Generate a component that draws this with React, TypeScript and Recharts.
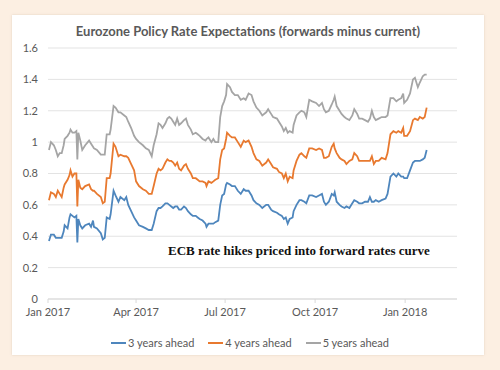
import { LineChart, Line, XAxis, YAxis, CartesianGrid, Legend } from "recharts";

const dates = [
  "2017-01-02", "2017-01-04", "2017-01-07", "2017-01-09", "2017-01-11", "2017-01-13", "2017-01-15", "2017-01-17", "2017-01-18", "2017-01-21",
  "2017-01-23", "2017-01-24", "2017-01-26", "2017-01-28", "2017-01-30", "2017-01-31", "2017-02-01", "2017-02-03", "2017-02-05", "2017-02-08",
  "2017-02-12", "2017-02-14", "2017-02-16", "2017-02-17", "2017-02-20", "2017-02-24", "2017-02-26", "2017-02-28", "2017-03-02", "2017-03-05",
  "2017-03-06", "2017-03-09", "2017-03-11", "2017-03-14", "2017-03-16", "2017-03-20", "2017-03-22", "2017-03-24", "2017-03-27", "2017-03-30",
  "2017-04-01", "2017-04-04", "2017-04-08", "2017-04-11", "2017-04-14", "2017-04-17", "2017-04-19", "2017-04-22", "2017-04-24", "2017-04-26",
  "2017-04-28", "2017-05-01", "2017-05-03", "2017-05-05", "2017-05-07", "2017-05-09", "2017-05-11", "2017-05-13", "2017-05-15", "2017-05-17",
  "2017-05-20", "2017-05-22", "2017-05-24", "2017-05-27", "2017-05-29", "2017-06-01", "2017-06-03", "2017-06-05", "2017-06-08", "2017-06-11",
  "2017-06-12", "2017-06-14", "2017-06-17", "2017-06-19", "2017-06-21", "2017-06-24", "2017-06-26", "2017-06-28", "2017-06-30", "2017-07-02",
  "2017-07-03", "2017-07-06",
  "2017-07-08", "2017-07-11", "2017-07-14", "2017-07-17", "2017-07-20", "2017-07-22", "2017-07-25", "2017-07-28", "2017-07-30", "2017-08-02",
  "2017-08-05", "2017-08-08", "2017-08-12", "2017-08-14", "2017-08-17", "2017-08-19", "2017-08-23", "2017-08-25", "2017-08-28", "2017-08-30",
  "2017-09-01", "2017-09-03", "2017-09-05", "2017-09-08", "2017-09-09", "2017-09-12", "2017-09-15", "2017-09-17", "2017-09-20", "2017-09-22",
  "2017-09-25", "2017-09-28", "2017-10-02", "2017-10-05", "2017-10-08", "2017-10-10",
  "2017-10-12", "2017-10-15", "2017-10-18", "2017-10-20", "2017-10-21", "2017-10-23", "2017-10-26", "2017-10-28", "2017-10-31", "2017-11-02",
  "2017-11-05", "2017-11-08", "2017-11-10", "2017-11-13", "2017-11-15", "2017-11-18", "2017-11-21", "2017-11-24", "2017-11-26", "2017-11-28",
  "2017-11-30", "2017-12-02", "2017-12-05", "2017-12-08", "2017-12-12", "2017-12-14", "2017-12-17", "2017-12-20", "2017-12-23", "2017-12-25",
  "2017-12-28", "2017-12-30", "2017-12-31", "2018-01-03", "2018-01-06", "2018-01-09", "2018-01-11", "2018-01-14", "2018-01-16", "2018-01-19",
  "2018-01-21", "2018-01-23",
];

const threeYears = [
  0.37, 0.41, 0.41, 0.39, 0.39, 0.39, 0.39, 0.43, 0.47, 0.45, 0.52, 0.54, 0.53, 0.52, 0.53, 0.36, 0.51, 0.47, 0.45, 0.47,
  0.48, 0.46, 0.5, 0.46, 0.45, 0.42, 0.38, 0.39, 0.52, 0.51, 0.54, 0.69, 0.66, 0.62, 0.65, 0.63, 0.65, 0.6, 0.56, 0.52,
  0.5, 0.47, 0.46, 0.45, 0.44, 0.44, 0.48, 0.56, 0.58, 0.58, 0.59, 0.61, 0.61, 0.6, 0.59, 0.58, 0.59, 0.59, 0.57, 0.57,
  0.59, 0.58, 0.56, 0.54, 0.53, 0.53, 0.52, 0.51, 0.5, 0.48, 0.46, 0.48, 0.48, 0.48, 0.49, 0.5, 0.6, 0.66, 0.67, 0.73,
  0.74, 0.73,
  0.72, 0.72, 0.69, 0.67, 0.7, 0.69, 0.69, 0.66, 0.63, 0.61, 0.6, 0.58, 0.6, 0.6, 0.57, 0.56, 0.55, 0.54, 0.53, 0.51,
  0.52, 0.48, 0.51, 0.52, 0.56, 0.6, 0.63, 0.63, 0.62, 0.61, 0.66, 0.66, 0.65, 0.66, 0.67, 0.62,
  0.6, 0.62, 0.67, 0.66, 0.68, 0.62, 0.6, 0.59, 0.58, 0.59, 0.58, 0.61, 0.63, 0.62, 0.61, 0.61, 0.62, 0.62, 0.65, 0.62,
  0.62, 0.63, 0.62, 0.63, 0.64, 0.67, 0.78, 0.8, 0.78, 0.8, 0.78, 0.78, 0.77, 0.77, 0.82, 0.87, 0.88, 0.88, 0.88, 0.89,
  0.9, 0.95,
];

const fourYears = [
  0.63, 0.68, 0.67, 0.65, 0.69, 0.67, 0.65, 0.71, 0.73, 0.76, 0.79, 0.82, 0.78, 0.8, 0.8, 0.59, 0.76, 0.71, 0.7, 0.72,
  0.73, 0.7, 0.69, 0.69, 0.67, 0.65, 0.61, 0.62, 0.77, 0.77, 0.8, 0.99, 0.97, 0.91, 0.92, 0.91, 0.91, 0.9, 0.86, 0.82,
  0.75, 0.72, 0.7, 0.69, 0.67, 0.67, 0.72, 0.8, 0.83, 0.82, 0.83, 0.87, 0.89, 0.88, 0.88, 0.87, 0.85, 0.87, 0.83, 0.82,
  0.85, 0.86, 0.83, 0.8, 0.77, 0.77, 0.76, 0.75, 0.75, 0.74, 0.72, 0.75, 0.74, 0.75, 0.76, 0.77, 0.89, 0.95, 0.96, 1.02,
  1.06, 1.04,
  1.03, 1.03, 1.0, 0.97, 1.01, 1.0, 1.01, 0.97, 0.93, 0.89, 0.88, 0.85, 0.87, 0.89, 0.86, 0.84, 0.83, 0.81, 0.8, 0.77,
  0.8, 0.75, 0.78, 0.77, 0.82, 0.88, 0.92, 0.93, 0.91, 0.9, 0.96, 0.96, 0.95, 0.96, 0.95, 0.9,
  0.9, 0.91, 0.97, 0.99, 0.96, 0.93, 0.9, 0.89, 0.88, 0.86, 0.88, 0.89, 0.93, 0.91, 0.88, 0.88, 0.88, 0.88, 0.88, 0.91,
  0.86, 0.88, 0.88, 0.9, 0.89, 0.93, 1.05, 1.07, 1.06, 1.07, 1.06, 1.09, 1.04, 1.04, 1.07, 1.14, 1.15, 1.14, 1.16, 1.15,
  1.16, 1.22,
];

const fiveYears = [
  0.95, 1.0, 0.98, 0.95, 0.91, 0.93, 0.93, 0.98, 1.02, 1.04, 1.06, 1.08, 1.06, 1.06, 1.07, 0.89, 1.06, 1.01, 0.95, 0.98,
  1.01, 0.99, 0.97, 0.96, 0.95, 0.92, 0.92, 0.92, 1.05, 1.05, 1.08, 1.23, 1.22, 1.19, 1.19, 1.17, 1.16, 1.13, 1.09, 1.04,
  1.02, 1.0, 0.98, 0.96, 0.95, 0.91, 0.98, 1.05, 1.12, 1.11, 1.09, 1.12, 1.15, 1.16, 1.15, 1.13, 1.11, 1.15, 1.11, 1.12,
  1.14, 1.15, 1.11, 1.08, 1.05, 1.06, 1.05, 1.04, 1.02, 1.01, 1.02, 1.03, 1.0, 1.02, 1.0, 1.0, 1.16, 1.23, 1.26, 1.3,
  1.37, 1.35,
  1.32, 1.3, 1.3, 1.27, 1.28, 1.27, 1.31, 1.3, 1.26, 1.22, 1.2, 1.17, 1.19, 1.21, 1.18, 1.16, 1.15, 1.13, 1.1, 1.07,
  1.09, 1.06, 1.07, 1.06, 1.11, 1.17, 1.19, 1.2, 1.19, 1.16, 1.27, 1.26, 1.25, 1.23, 1.25, 1.21,
  1.19, 1.2, 1.24, 1.27, 1.29, 1.23, 1.2, 1.18, 1.16, 1.15, 1.14, 1.17, 1.21, 1.18, 1.15, 1.15, 1.14, 1.13, 1.15, 1.2,
  1.16, 1.14, 1.15, 1.16, 1.16, 1.17, 1.28, 1.28, 1.26, 1.27, 1.28, 1.31, 1.25, 1.27, 1.31, 1.4, 1.41, 1.35, 1.38, 1.42,
  1.43, 1.43,
];

const tickDates = ["2017-01-01", "2017-04-01", "2017-07-01", "2017-10-01", "2018-01-01"];
const tickLabels = ["Jan 2017", "Apr 2017", "Jul 2017", "Oct 2017", "Jan 2018"];
const yTicks = [0, 0.2, 0.4, 0.6, 0.8, 1, 1.2, 1.4, 1.6];

const data = dates.map((d, i) => ({
  t: Date.parse(d),
  y3: threeYears[i],
  y4: fourYears[i],
  y5: fiveYears[i],
}));

const xTicks = tickDates.map((d) => Date.parse(d));
const xLabel = (v: number) => tickLabels[xTicks.indexOf(v)] ?? "";

const TEXT = "#595959";
const FONT = "Lato, 'Open Sans', sans-serif";

// excel-style legend: short line swatch right next to the label
const renderLegend = (props: any) => {
  const { payload = [] } = props;
  return (
    <div style={{ display: "flex", justifyContent: "center", gap: 14, fontSize: 11, color: TEXT, fontFamily: FONT }}>
      {payload.map((entry: any) => (
        <div key={entry.value} style={{ display: "flex", alignItems: "center" }}>
          <svg width={15} height={10} style={{ marginRight: 2 }}>
            <line x1={0} y1={5} x2={15} y2={5} stroke={entry.color} strokeWidth={2} />
          </svg>
          <span>{entry.value}</span>
        </div>
      ))}
    </div>
  );
};

const App = () => {
  return (
    <div
      style={{
        position: "fixed",
        left: 0,
        top: 0,
        width: 500,
        height: 370,
        background: "#fcefe2",
        fontFamily: FONT,
      }}
    >
      <div
        style={{
          position: "absolute",
          left: 12,
          top: 15,
          width: 472,
          height: 340,
          background: "#ffffff",
          boxShadow: "0 0 2px rgba(200,180,160,0.5)",
        }}
      />
      <div
        style={{
          position: "absolute",
          left: 0,
          top: 22,
          width: 496,
          textAlign: "center",
          fontSize: 13,
          fontWeight: 700,
          color: TEXT,
          lineHeight: "18px",
        }}
      >
        Eurozone Policy Rate Expectations (forwards minus current)
      </div>
      <div style={{ position: "absolute", left: 0, top: 0 }}>
        <LineChart
          width={500}
          height={370}
          data={data}
          margin={{ top: 48, right: 43, bottom: 28, left: 8 }}
        >
          <CartesianGrid vertical={false} stroke="#e3e3e3" />
          <XAxis
            dataKey="t"
            type="number"
            scale="time"
            domain={[Date.parse("2017-01-01"), Date.parse("2018-02-23")]}
            ticks={xTicks}
            tickFormatter={xLabel}
            stroke="#d9d9d9"
            tickSize={4}
            tickMargin={5}
            height={30}
            tick={{ fill: TEXT, fontSize: 11, fontFamily: FONT }}
          />
          <YAxis
            domain={[0, 1.6]}
            ticks={yTicks}
            tickFormatter={(v: number) => String(+v.toFixed(1))}
            axisLine={false}
            tickLine={false}
            tickMargin={4}
            width={40}
            tick={{ fill: TEXT, fontSize: 11, fontFamily: FONT }}
          />
          <Legend
            verticalAlign="bottom"
            content={renderLegend}
            wrapperStyle={{ left: 0, width: 500, bottom: 21 }}
          />
          <Line
            type="linear"
            dataKey="y3"
            name="3 years ahead"
            stroke="#4e86bd"
            strokeWidth={1.8}
            dot={false}
            isAnimationActive={false}
          />
          <Line
            type="linear"
            dataKey="y4"
            name="4 years ahead"
            stroke="#e8792f"
            strokeWidth={1.8}
            dot={false}
            isAnimationActive={false}
          />
          <Line
            type="linear"
            dataKey="y5"
            name="5 years ahead"
            stroke="#a5a5a5"
            strokeWidth={1.8}
            dot={false}
            isAnimationActive={false}
          />
        </LineChart>
      </div>
      <div
        style={{
          position: "absolute",
          left: 168,
          top: 243,
          fontFamily: "'Liberation Serif', serif",
          fontWeight: 700,
          fontSize: 13,
          color: "#111111",
          whiteSpace: "nowrap",
        }}
      >
        ECB rate hikes priced into forward rates curve
      </div>
    </div>
  );
};

export default App;
